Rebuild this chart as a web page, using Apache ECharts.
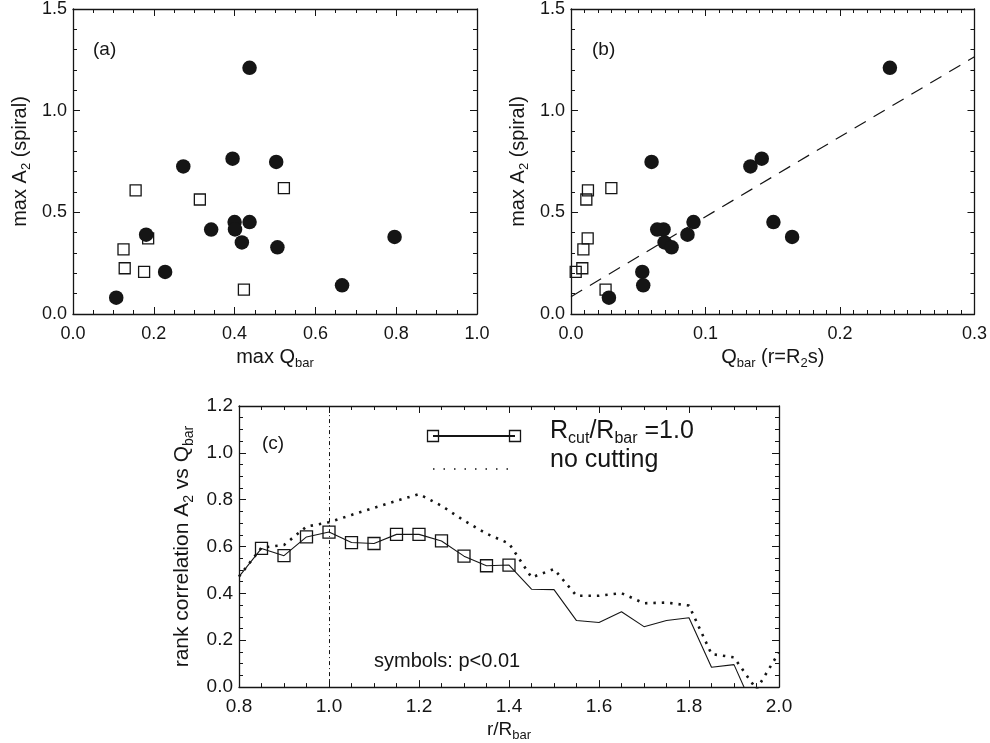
<!DOCTYPE html>
<html>
<head>
<meta charset="utf-8">
<script src="https://cdn.jsdelivr.net/npm/echarts@6/dist/echarts.min.js"></script>
<style>
  html, body { margin: 0; padding: 0; background: #ffffff; }
  #chart { width: 990px; height: 743px; }
</style>
</head>
<body>
<div id="chart"></div>
<script>
// Barred galaxies (filled circles): maximum Q_bar, Q_bar at r = R2s, and maximum spiral A2
const barredMaxQbar = [0.437, 0.395, 0.503, 0.273, 0.400, 0.437, 0.401, 0.342, 0.181, 0.796, 0.418, 0.506, 0.228, 0.666, 0.107];
const barredQbarR2s = [0.2371, 0.1418, 0.0599, 0.1334, 0.0911, 0.1505, 0.0688, 0.0641, 0.0866, 0.1644, 0.0696, 0.0748, 0.0530, 0.0537, 0.0282];
const barredA2      = [1.211, 0.764, 0.748, 0.726, 0.452, 0.452, 0.416, 0.415, 0.390, 0.379, 0.352, 0.328, 0.207, 0.141, 0.080];

// Weakly barred galaxies (open squares)
const weakMaxQbar = [0.155, 0.314, 0.522, 0.186, 0.125, 0.128, 0.176, 0.423];
const weakQbarR2s = [0.0126, 0.0114, 0.0300, 0.0124, 0.0092, 0.0084, 0.0035, 0.0257];
const weakA2      = [0.608, 0.563, 0.619, 0.372, 0.318, 0.225, 0.207, 0.120];

// Linear fit drawn in panel (b): end points
const fitQbar = [0.0, 0.3];
const fitA2   = [0.085, 1.265];

// Panel (c): rank correlation of A2 vs Q_bar along r / R_bar
const rOverRbar = [0.80, 0.85, 0.90, 0.95, 1.00, 1.05, 1.10, 1.15, 1.20, 1.25, 1.30, 1.35, 1.40,
                   1.45, 1.50, 1.55, 1.60, 1.65, 1.70, 1.75, 1.80, 1.85, 1.90, 1.95, 2.00];
const rhoCut    = [0.472, 0.592, 0.561, 0.641, 0.662, 0.617, 0.613, 0.652, 0.652, 0.624, 0.559, 0.518, 0.521,
                   0.418, 0.416, 0.284, 0.276, 0.322, 0.258, 0.284, 0.296, 0.085, 0.096, -0.120, -0.150];
const rhoNoCut  = [0.472, 0.595, 0.607, 0.685, 0.704, 0.735, 0.765, 0.795, 0.824, 0.774, 0.711, 0.655, 0.613,
                   0.468, 0.504, 0.390, 0.390, 0.401, 0.358, 0.361, 0.348, 0.141, 0.127, -0.010, 0.148];
const significant = [false, true, true, true, true, true, true, true, true, true, true, true, true,
                     false, false, false, false, false, false, false, false, false, false, false, false];
const barRadiusMark = 1.0;

// Tick labels
const ticksMaxQbar = [0.0, 0.2, 0.4, 0.6, 0.8, 1.0];
const ticksQbarR2s = [0.0, 0.1, 0.2, 0.3];
const ticksA2      = [0.0, 0.5, 1.0, 1.5];
const ticksRadius  = [0.8, 1.0, 1.2, 1.4, 1.6, 1.8, 2.0];
const ticksRho     = [0.0, 0.2, 0.4, 0.6, 0.8, 1.0, 1.2];

const INK = '#151515';
const FONT = '"Liberation Sans", Arial, Helvetica, sans-serif';

// One axis pair per side: a labelled axis plus a mirrored one, so ticks run round the whole box
function boxAxes(kind, grid, ticks, minorSplit, labelSize, labelMargin, name) {
  const step = Math.round((ticks[1] - ticks[0]) * 1e6) / 1e6;
  const base = {
    type: 'value',
    gridIndex: grid,
    min: ticks[0],
    max: ticks[ticks.length - 1],
    interval: step,
    splitLine: { show: false },
    minorSplitLine: { show: false },
    axisLine: { show: true, onZero: false, lineStyle: { color: INK, width: 1.3 } },
    axisTick: { show: true, inside: true, length: 7, lineStyle: { color: INK, width: 1 } },
    minorTick: { show: true, splitNumber: minorSplit, length: 4, lineStyle: { color: INK, width: 1 } }
  };
  const main = Object.assign({}, base, {
    position: kind === 'x' ? 'bottom' : 'left',
    axisLabel: {
      show: true, fontSize: labelSize, color: INK, fontFamily: FONT, margin: labelMargin,
      showMinLabel: true, showMaxLabel: true,
      formatter: v => v.toFixed(1)
    },
    name: name.text,
    nameLocation: 'middle',
    nameGap: name.gap,
    nameTextStyle: {
      fontSize: name.size, color: INK, fontFamily: FONT, lineHeight: name.size + 6,
      rich: { sub: { fontSize: name.sub, lineHeight: name.sub, verticalAlign: 'bottom', color: INK, fontFamily: FONT } }
    }
  });
  const mirror = Object.assign({}, base, {
    position: kind === 'x' ? 'top' : 'right',
    axisLabel: { show: false },
    name: ''
  });
  return [main, mirror];
}

const openSquare = { color: 'rgba(0,0,0,0)', borderColor: INK, borderWidth: 1.3, opacity: 1 };
const filledDot = { color: INK, opacity: 1 };

const option = {
  animation: false,
  backgroundColor: '#ffffff',
  grid: [
    { left: 73, top: 9, width: 404, height: 305 },
    { left: 571, top: 9, width: 404, height: 305 },
    { left: 239, top: 406, width: 540, height: 284 }
  ],
  xAxis: [
    ...boxAxes('x', 0, ticksMaxQbar, 4, 18, 11, { text: 'max Q{sub|bar}', gap: 30, size: 20, sub: 13 }),
    ...boxAxes('x', 1, ticksQbarR2s, 10, 18, 11, { text: 'Q{sub|bar} (r=R{sub|2}s)', gap: 30, size: 20, sub: 13 }),
    ...boxAxes('x', 2, ticksRadius, 4, 19, 10, { text: 'r/R{sub|bar}', gap: 27, size: 19, sub: 13 })
  ],
  yAxis: [
    ...boxAxes('y', 0, ticksA2, 5, 18, 6, { text: 'max A{sub|2} (spiral)', gap: 40, size: 20, sub: 13 }),
    ...boxAxes('y', 1, ticksA2, 5, 18, 6, { text: 'max A{sub|2} (spiral)', gap: 40, size: 20, sub: 13 }),
    ...boxAxes('y', 2, ticksRho, 4, 19, 6, { text: 'rank correlation A{sub|2} vs Q{sub|bar}', gap: 41, size: 21, sub: 14 })
  ],
  series: [
    // (a)
    {
      type: 'scatter', xAxisIndex: 0, yAxisIndex: 0, z: 2,
      symbol: 'rect', symbolSize: 11, itemStyle: openSquare,
      data: weakMaxQbar.map((q, i) => [q, weakA2[i]])
    },
    {
      type: 'scatter', xAxisIndex: 0, yAxisIndex: 0, z: 3,
      symbol: 'circle', symbolSize: 14.5, itemStyle: filledDot,
      data: barredMaxQbar.map((q, i) => [q, barredA2[i]])
    },
    // (b)
    {
      type: 'line', xAxisIndex: 2, yAxisIndex: 2, z: 1,
      symbol: 'none', silent: true,
      lineStyle: { color: INK, width: 1.2, type: [13, 9] },
      data: fitQbar.map((q, i) => [q, fitA2[i]])
    },
    {
      type: 'scatter', xAxisIndex: 2, yAxisIndex: 2, z: 2,
      symbol: 'rect', symbolSize: 11, itemStyle: openSquare,
      data: weakQbarR2s.map((q, i) => [q, weakA2[i]])
    },
    {
      type: 'scatter', xAxisIndex: 2, yAxisIndex: 2, z: 3,
      symbol: 'circle', symbolSize: 14.5, itemStyle: filledDot,
      data: barredQbarR2s.map((q, i) => [q, barredA2[i]])
    },
    // (c)
    {
      type: 'line', xAxisIndex: 4, yAxisIndex: 4, z: 2,
      symbol: 'none', clip: true, silent: true,
      lineStyle: { color: INK, width: 2.6, type: [2.4, 6] },
      data: rOverRbar.map((r, i) => [r, rhoNoCut[i]]),
      markLine: {
        silent: true, symbol: ['none', 'none'], label: { show: false },
        lineStyle: { color: INK, width: 1, type: [4, 3, 1, 3] },
        data: [{ xAxis: barRadiusMark }]
      }
    },
    {
      type: 'line', xAxisIndex: 4, yAxisIndex: 4, z: 3,
      clip: true, silent: true, showSymbol: true, symbolSize: 12,
      lineStyle: { color: INK, width: 1.1 },
      itemStyle: openSquare,
      data: rOverRbar.map((r, i) => ({ value: [r, rhoCut[i]], symbol: significant[i] ? 'rect' : 'none' }))
    }
  ],
  graphic: [
    { type: 'text', x: 93, y: 50, style: { text: '(a)', fontSize: 19, fontFamily: FONT, fill: INK, verticalAlign: 'middle' } },
    { type: 'text', x: 592, y: 50, style: { text: '(b)', fontSize: 19, fontFamily: FONT, fill: INK, verticalAlign: 'middle' } },
    { type: 'text', x: 262, y: 444, style: { text: '(c)', fontSize: 19, fontFamily: FONT, fill: INK, verticalAlign: 'middle' } },
    { type: 'text', x: 374, y: 661, style: { text: 'symbols: p<0.01', fontSize: 20, fontFamily: FONT, fill: INK, verticalAlign: 'middle' } },
    // key: cut profile
    { type: 'line', shape: { x1: 433, y1: 436, x2: 515, y2: 436 }, style: { stroke: INK, lineWidth: 1.8 } },
    { type: 'rect', shape: { x: 427.5, y: 430.5, width: 11, height: 11 }, style: { fill: 'none', stroke: INK, lineWidth: 1.3 } },
    { type: 'rect', shape: { x: 509.5, y: 430.5, width: 11, height: 11 }, style: { fill: 'none', stroke: INK, lineWidth: 1.3 } },
    {
      type: 'text', x: 550, y: 431,
      style: {
        text: 'R{sub|cut}/R{sub|bar} =1.0', fontSize: 25, lineHeight: 31, fontFamily: FONT, fill: INK, verticalAlign: 'middle',
        rich: { sub: { fontSize: 16, lineHeight: 16, verticalAlign: 'bottom', fontFamily: FONT, fill: INK } }
      }
    },
    // key: uncut profile
    { type: 'line', shape: { x1: 433, y1: 469, x2: 515, y2: 469 }, style: { stroke: INK, lineWidth: 1.5, lineDash: [1.5, 9] } },
    { type: 'text', x: 550, y: 460, style: { text: 'no cutting', fontSize: 25, fontFamily: FONT, fill: INK, verticalAlign: 'middle' } }
  ]
};

const chart = echarts.init(document.getElementById('chart'), null, { renderer: 'canvas' });
chart.setOption(option);
</script>
</body>
</html>
